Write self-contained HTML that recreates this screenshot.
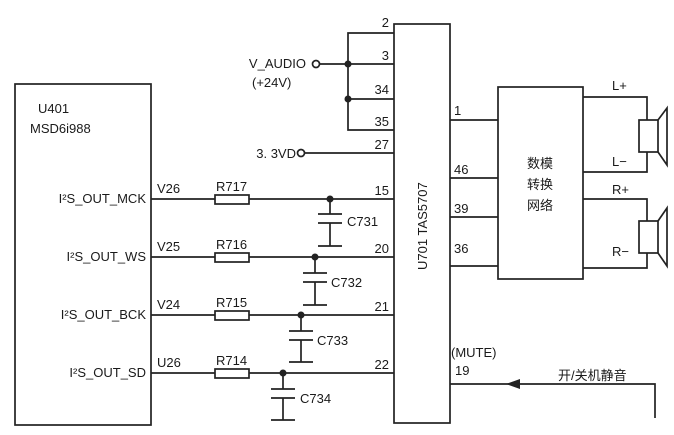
<!DOCTYPE html>
<html><head><meta charset="utf-8"><style>
html,body{margin:0;padding:0;background:#fff;}
svg{display:block;}
text{font-family:"Liberation Sans","Noto Sans CJK SC",sans-serif;font-size:13px;fill:#1a1a1a;}
</style></head><body>
<svg width="674" height="435" viewBox="0 0 674 435" xmlns="http://www.w3.org/2000/svg">
<g stroke="#222" stroke-width="1.7" fill="none">
<rect x="15" y="84" width="136" height="341"/>
<rect x="394" y="24" width="56" height="399"/>
<polyline points="394,33 348,33 348,130 394,130"/>
<line x1="320" y1="64" x2="394" y2="64"/>
<line x1="348" y1="99" x2="394" y2="99"/>
<circle cx="316" cy="64" r="3.5" fill="#fff"/>
<line x1="305" y1="153" x2="394" y2="153"/>
<circle cx="301" cy="153" r="3.5" fill="#fff"/>
<line x1="151" y1="199" x2="394" y2="199"/>
<line x1="151" y1="257" x2="394" y2="257"/>
<line x1="151" y1="315" x2="394" y2="315"/>
<line x1="151" y1="373" x2="394" y2="373"/>
<rect x="215" y="195" width="34" height="9" fill="#fff"/>
<rect x="215" y="253" width="34" height="9" fill="#fff"/>
<rect x="215" y="311" width="34" height="9" fill="#fff"/>
<rect x="215" y="369" width="34" height="9" fill="#fff"/>
<g>
<line x1="330" y1="199" x2="330" y2="214"/><line x1="318" y1="214" x2="342" y2="214"/><line x1="318" y1="223" x2="342" y2="223"/><line x1="330" y1="223" x2="330" y2="246"/><line x1="318" y1="246" x2="342" y2="246"/>
<line x1="315" y1="257" x2="315" y2="273"/><line x1="303" y1="273" x2="327" y2="273"/><line x1="303" y1="282" x2="327" y2="282"/><line x1="315" y1="282" x2="315" y2="305"/><line x1="303" y1="305" x2="327" y2="305"/>
<line x1="301" y1="315" x2="301" y2="331"/><line x1="289" y1="331" x2="313" y2="331"/><line x1="289" y1="340" x2="313" y2="340"/><line x1="301" y1="340" x2="301" y2="362"/><line x1="289" y1="362" x2="313" y2="362"/>
<line x1="283" y1="373" x2="283" y2="389"/><line x1="271" y1="389" x2="295" y2="389"/><line x1="271" y1="398" x2="295" y2="398"/><line x1="283" y1="398" x2="283" y2="420"/><line x1="271" y1="420" x2="295" y2="420"/>
</g>
<line x1="450" y1="120" x2="498" y2="120"/>
<line x1="450" y1="178" x2="498" y2="178"/>
<line x1="450" y1="217" x2="498" y2="217"/>
<line x1="450" y1="266" x2="498" y2="266"/>
<rect x="498" y="87" width="85" height="192"/>
<polyline points="583,97 647,97 647,172 583,172"/>
<polyline points="583,199 647,199 647,268 583,268"/>
<rect x="639" y="120" width="19" height="32" fill="#fff"/>
<polyline points="658,120 667,108 667,165 658,152"/>
<rect x="639" y="221" width="19" height="32" fill="#fff"/>
<polyline points="658,221 667,208 667,266 658,253"/>
<polyline points="450,384 655,384 655,418"/>
</g>
<polygon points="506,384 520,379 520,389" fill="#222"/>
<g fill="#222">
<circle cx="348" cy="64" r="3.5"/><circle cx="348" cy="99" r="3.5"/>
<circle cx="330" cy="199" r="3.5"/><circle cx="315" cy="257" r="3.5"/>
<circle cx="301" cy="315" r="3.5"/><circle cx="283" cy="373" r="3.5"/>
</g>
<text x="38" y="113" font-size="14">U401</text>
<text x="30" y="133" font-size="14">MSD6i988</text>
<text x="146" y="203" text-anchor="end">I²S_OUT_MCK</text>
<text x="146" y="261" text-anchor="end">I²S_OUT_WS</text>
<text x="146" y="319" text-anchor="end">I²S_OUT_BCK</text>
<text x="146" y="377" text-anchor="end">I²S_OUT_SD</text>
<text x="157" y="193">V26</text><text x="157" y="251">V25</text><text x="157" y="309">V24</text><text x="157" y="367">U26</text>
<text x="216" y="191">R717</text><text x="216" y="249">R716</text><text x="216" y="307">R715</text><text x="216" y="365">R714</text>
<text x="347" y="226">C731</text><text x="331" y="287">C732</text><text x="317" y="345">C733</text><text x="300" y="403">C734</text>
<text x="306" y="68" text-anchor="end">V_AUDIO</text>
<text x="252" y="87">(+24V)</text>
<text x="296" y="158" text-anchor="end">3. 3VD</text>
<g text-anchor="end">
<text x="389" y="27">2</text><text x="389" y="60">3</text><text x="389" y="94">34</text><text x="389" y="126">35</text><text x="389" y="149">27</text>
<text x="389" y="195">15</text><text x="389" y="253">20</text><text x="389" y="311">21</text><text x="389" y="369">22</text>
</g>
<text transform="translate(427,270) rotate(-90)" font-size="14">U701  TAS5707</text>
<text x="454" y="115">1</text><text x="454" y="174">46</text><text x="454" y="213">39</text><text x="454" y="253">36</text>
<text x="540" y="168" text-anchor="middle" font-size="15">数模</text>
<text x="540" y="189" text-anchor="middle" font-size="15">转换</text>
<text x="540" y="210" text-anchor="middle" font-size="15">网络</text>
<text x="612" y="90">L+</text><text x="612" y="166">L−</text><text x="612" y="194">R+</text><text x="612" y="256">R−</text>
<text x="451" y="357">(MUTE)</text>
<text x="455" y="375">19</text>
<text x="558" y="380" font-size="14">开/关机静音</text>
</svg>
</body></html>
